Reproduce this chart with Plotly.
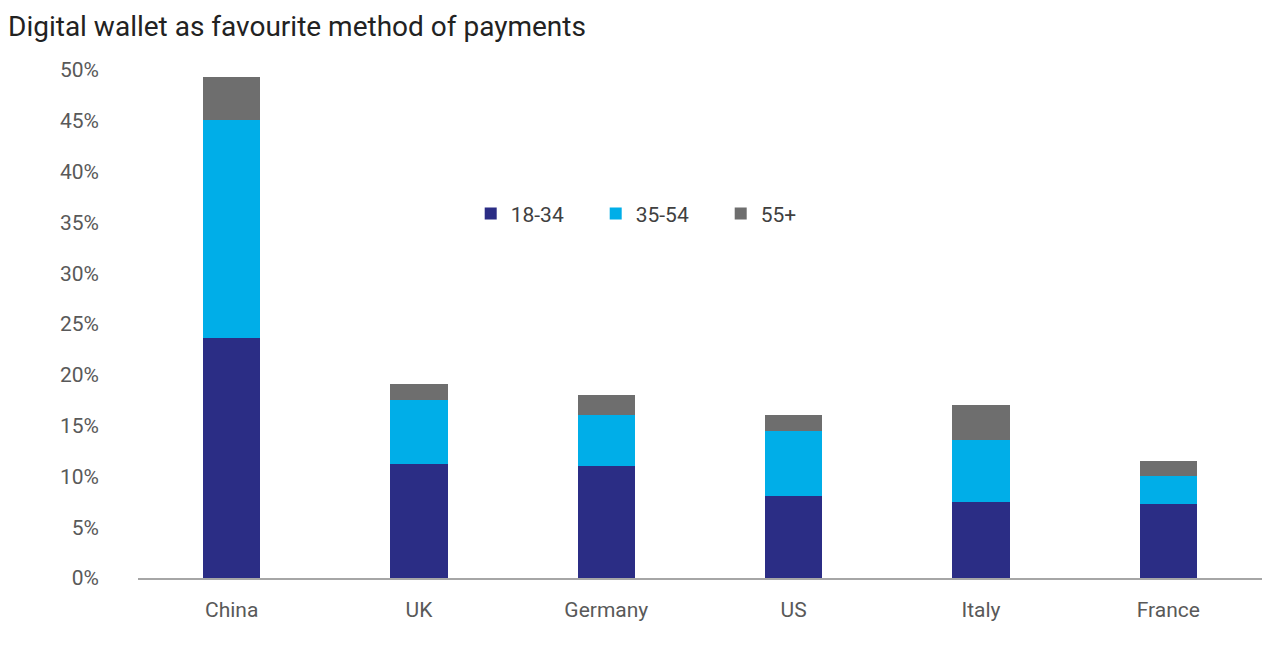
import plotly.graph_objects as go

countries = ["China", "UK", "Germany", "US", "Italy", "France"]

# share of respondents (%) per age group, stacked
age_18_34 = [23.6, 11.2, 11.0, 8.1, 7.5, 7.3]
age_35_54 = [21.5, 6.3, 5.0, 6.4, 6.1, 2.7]
age_55_plus = [4.2, 1.6, 2.0, 1.5, 3.4, 1.5]

y_ticks = [0, 5, 10, 15, 20, 25, 30, 35, 40, 45, 50]
y_tick_labels = ["%d%%" % t for t in y_ticks]

fig = go.Figure()
fig.add_trace(go.Bar(x=countries, y=age_18_34, name="18-34", marker_color="#2b2d85"))
fig.add_trace(go.Bar(x=countries, y=age_35_54, name="35-54", marker_color="#00aee8"))
fig.add_trace(go.Bar(x=countries, y=age_55_plus, name="55+", marker_color="#6e6e6e"))

fig.update_traces(marker_line_width=0, hoverinfo="skip")

fig.update_layout(
    barmode="stack",
    bargap=0.695,
    width=1280,
    height=651,
    plot_bgcolor="white",
    paper_bgcolor="white",
    margin=dict(l=130, r=26, t=62, b=81),
    font=dict(family="Roboto", color="#595959", size=21),
    title=dict(
        text="Digital wallet as favourite method of payments",
        x=0, xanchor="left", y=0.972, yanchor="middle",
        font=dict(family="Roboto", size=28, color="#222222"),
    ),
    legend=dict(
        orientation="h",
        x=0.296, xanchor="left",
        y=0.717, yanchor="middle",
        entrywidth=80,
        font=dict(size=21, color="#404040"),
        bgcolor="rgba(0,0,0,0)",
        traceorder="normal",
    ),
    xaxis=dict(
        showline=True, linecolor="#a6a6a6", linewidth=1.5,
        showgrid=False, ticks="", ticklabelstandoff=12,
        tickfont=dict(size=21, color="#595959"),
    ),
    yaxis=dict(
        range=[0, 50], tickvals=y_ticks, ticktext=y_tick_labels,
        showgrid=False, zeroline=False, showline=False,
        ticks="", ticklabelstandoff=38,
        tickfont=dict(size=21, color="#595959"),
    ),
)

fig.write_html("out.html")
